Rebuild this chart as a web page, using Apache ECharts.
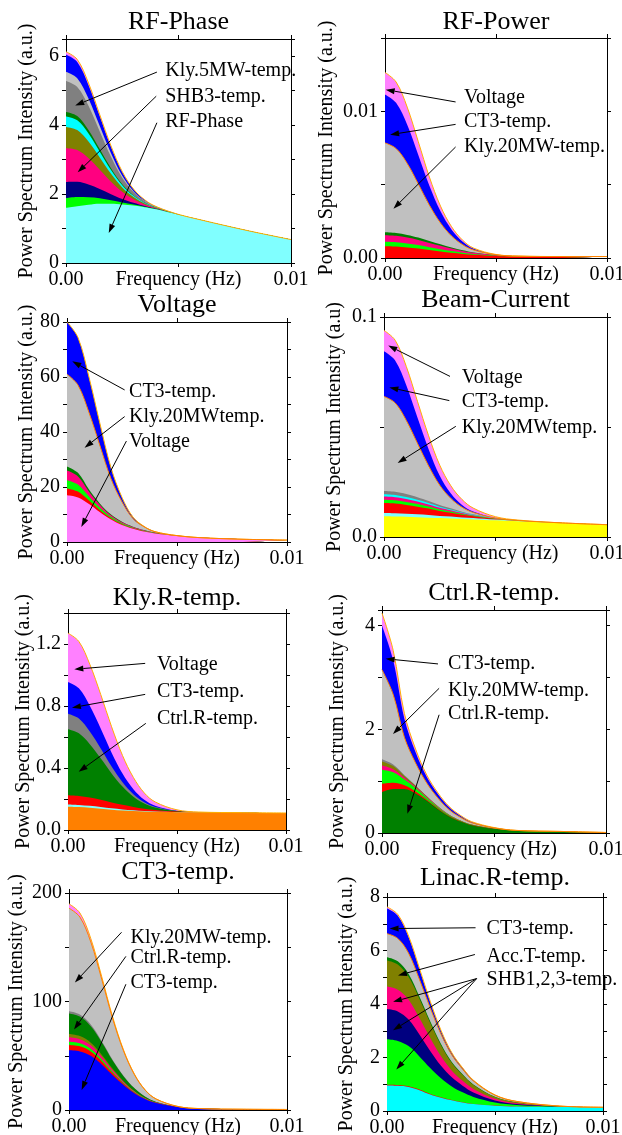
<!DOCTYPE html>
<html>
<head>
<meta charset="utf-8">
<script src="https://cdn.jsdelivr.net/npm/echarts@6/dist/echarts.min.js"></script>
<style>
  html, body { margin: 0; padding: 0; background: #fff; }
  #chart { width: 622px; height: 1135px; }
</style>
</head>
<body>
<div id="chart"></div>
<script>
// frequency points shared by every panel (Hz)
const freq = [0, 0.0005, 0.001, 0.0015, 0.002, 0.0025, 0.003, 0.0035, 0.004, 0.005, 0.006, 0.008, 0.01]

// RF-Phase panel, layer thickness, bottom -> top
const phase_RFPhase = [1.60, 1.65, 1.69, 1.72, 1.72, 1.70, 1.67, 1.62, 1.56, 1.40, 1.25, 0.95, 0.68]
const phase_SHB1 = [0.28, 0.263, 0.218, 0.16, 0.104, 0.059, 0.029, 0.013, 0.005, 0.001, 0, 0, 0]
const phase_SHB2 = [0.47, 0.442, 0.367, 0.268, 0.174, 0.099, 0.049, 0.022, 0.008, 0.001, 0, 0, 0]
const phase_SHB3 = [0.98, 0.921, 0.764, 0.559, 0.363, 0.206, 0.103, 0.046, 0.018, 0.002, 0, 0, 0]
const phase_AccT = [0.62, 0.583, 0.484, 0.353, 0.229, 0.130, 0.065, 0.029, 0.011, 0.001, 0, 0, 0]
const phase_LinacR = [0.30, 0.282, 0.234, 0.171, 0.111, 0.063, 0.032, 0.014, 0.005, 0.001, 0, 0, 0]
const phase_CtrlR = [0.13, 0.122, 0.101, 0.074, 0.048, 0.027, 0.014, 0.006, 0.002, 0, 0, 0, 0]
const phase_Kly5 = [0.90, 0.846, 0.702, 0.513, 0.333, 0.189, 0.095, 0.042, 0.016, 0.002, 0, 0, 0]
const phase_Kly20 = [0.27, 0.254, 0.211, 0.154, 0.1, 0.057, 0.028, 0.013, 0.005, 0.001, 0, 0, 0]
const phase_CT3 = [0.50, 0.47, 0.39, 0.285, 0.185, 0.105, 0.053, 0.024, 0.009, 0.001, 0, 0, 0]
const phase_Voltage = [0.08, 0.075, 0.062, 0.046, 0.03, 0.017, 0.008, 0.004, 0.001, 0, 0, 0, 0]

// RF-Power panel
const power_RFPower = [0.0008, 0.00078, 0.00072, 0.00065, 0.00055, 0.00045, 0.00036, 0.00028, 0.00022, 0.00014, 0.00011, 0.0001, 0.0001]
const power_SHB1 = [0.0003, 0.00029, 0.00027, 0.00023, 0.00019, 0.00015, 0.00011, 0.00008, 0.00005, 0.00002, 0.00001, 0, 0]
const power_SHB3 = [0.00045, 0.00044, 0.0004, 0.00035, 0.00029, 0.00023, 0.00017, 0.00012, 0.00008, 0.00003, 0.00001, 0, 0]
const power_CtrlR = [0.0002, 0.00019, 0.00018, 0.00016, 0.00013, 0.0001, 0.00007, 0.00005, 0.00003, 0.00001, 0, 0, 0]
const power_Kly20 = [0.0061, 0.00576, 0.00488, 0.00366, 0.00244, 0.00146, 0.00079, 0.00038, 0.00016, 0.00002, 0, 0, 0]
const power_CT3 = [0.0033, 0.00312, 0.00264, 0.00198, 0.00132, 0.00079, 0.00043, 0.0002, 0.00009, 0.00001, 0, 0, 0]
const power_Voltage = [0.0015, 0.00142, 0.0012, 0.0009, 0.0006, 0.00036, 0.0002, 0.0001, 0.00004, 0.00001, 0, 0, 0]

// Voltage panel
const volt_Voltage = [17, 16.2, 13.8, 10.8, 8.2, 6.2, 4.8, 3.8, 3.1, 2.2, 1.6, 1.0, 0.7]
const volt_RFPower = [2.5, 2.13, 1.25, 0.75, 0.43, 0.28, 0.19, 0.13, 0.08, 0.03, 0, 0, 0]
const volt_SHB1 = [3, 2.55, 1.5, 0.9, 0.51, 0.33, 0.23, 0.15, 0.09, 0.03, 0, 0, 0]
const volt_SHB3 = [3.5, 2.98, 1.75, 1.05, 0.6, 0.39, 0.26, 0.18, 0.11, 0.04, 0, 0, 0]
const volt_CtrlR = [1.5, 1.28, 0.75, 0.45, 0.26, 0.17, 0.11, 0.08, 0.05, 0.02, 0, 0, 0]
const volt_Kly20 = [33.5, 31.9, 28, 21, 13, 7.2, 2.9, 1.2, 0.3, 0, 0, 0, 0]
const volt_CT3 = [19, 17.3, 12.9, 8, 4, 1.65, 0.57, 0.15, 0.04, 0, 0, 0, 0]

// Beam-Current panel
const beam_Beam = [0.0094, 0.0093, 0.0092, 0.009, 0.0088, 0.0086, 0.0084, 0.0082, 0.008, 0.0076, 0.0072, 0.0064, 0.0056]
const beam_RFPhase = [0.0015, 0.0015, 0.0014, 0.0013, 0.0012, 0.001, 0.0009, 0.0007, 0.0006, 0.0003, 0.0001, 0, 0]
const beam_RFPower = [0.0045, 0.0044, 0.004, 0.0035, 0.0029, 0.0022, 0.0017, 0.0012, 0.0008, 0.0003, 0.0001, 0, 0]
const beam_SHB1 = [0.0015, 0.00146, 0.00134, 0.00117, 0.00096, 0.00075, 0.00056, 0.00039, 0.00026, 0.00009, 0.00003, 0, 0]
const beam_SHB3 = [0.0015, 0.00146, 0.00134, 0.00117, 0.00096, 0.00075, 0.00056, 0.00039, 0.00026, 0.00009, 0.00003, 0, 0]
const beam_LinacR = [0.001, 0.00097, 0.00089, 0.00078, 0.00064, 0.0005, 0.00037, 0.00026, 0.00017, 0.00006, 0.00002, 0, 0]
const beam_Kly5 = [0.0015, 0.00146, 0.00134, 0.00117, 0.00096, 0.00075, 0.00056, 0.00039, 0.00026, 0.00009, 0.00003, 0, 0]
const beam_Kly20 = [0.043, 0.0404, 0.0335, 0.0245, 0.0159, 0.009, 0.0045, 0.002, 0.0008, 0.0001, 0, 0, 0]
const beam_CT3 = [0.0205, 0.0193, 0.016, 0.0117, 0.0076, 0.0043, 0.0022, 0.001, 0.0004, 0, 0, 0, 0]
const beam_Voltage = [0.0095, 0.0092, 0.0085, 0.0074, 0.0061, 0.0048, 0.0035, 0.0025, 0.0016, 0.0006, 0.0002, 0, 0]

// Kly.R-temp. panel
const klyr_KlyR = [0.15, 0.148, 0.143, 0.137, 0.131, 0.126, 0.122, 0.119, 0.117, 0.115, 0.114, 0.112, 0.11]
const klyr_RFPhase = [0.015, 0.014, 0.013, 0.011, 0.009, 0.007, 0.005, 0.003, 0.002, 0, 0, 0, 0]
const klyr_RFPower = [0.06, 0.058, 0.054, 0.047, 0.038, 0.03, 0.022, 0.015, 0.01, 0.004, 0.001, 0, 0]
const klyr_CtrlR = [0.425, 0.404, 0.344, 0.268, 0.187, 0.117, 0.066, 0.034, 0.016, 0.003, 0, 0, 0]
const klyr_Kly5 = [0.1, 0.095, 0.081, 0.063, 0.044, 0.028, 0.016, 0.008, 0.004, 0.001, 0, 0, 0]
const klyr_CT3 = [0.205, 0.195, 0.166, 0.129, 0.09, 0.056, 0.032, 0.016, 0.008, 0.001, 0, 0, 0]
const klyr_Voltage = [0.315, 0.302, 0.268, 0.22, 0.167, 0.117, 0.076, 0.044, 0.024, 0.006, 0.001, 0, 0]

// Ctrl.R-temp. panel
const ctrl_CtrlR = [0.79, 0.85, 0.85, 0.76, 0.62, 0.46, 0.32, 0.22, 0.15, 0.08, 0.05, 0.03, 0.01]
const ctrl_RFPower = [0.16, 0.12, 0.07, 0.04, 0.023, 0.014, 0.009, 0.006, 0.003, 0.001, 0, 0, 0]
const ctrl_SHB1 = [0.27, 0.2, 0.11, 0.068, 0.039, 0.024, 0.015, 0.009, 0.005, 0.002, 0, 0, 0]
const ctrl_SHB3 = [0.08, 0.06, 0.034, 0.02, 0.012, 0.007, 0.004, 0.003, 0.002, 0, 0, 0, 0]
const ctrl_AccT = [0.08, 0.06, 0.034, 0.02, 0.012, 0.007, 0.004, 0.003, 0.002, 0, 0, 0, 0]
const ctrl_Kly5 = [0.04, 0.03, 0.017, 0.01, 0.006, 0.004, 0.002, 0.001, 0, 0, 0, 0, 0]
const ctrl_Kly20 = [1.73, 1.35, 0.73, 0.43, 0.25, 0.156, 0.095, 0.06, 0.035, 0.014, 0, 0, 0]
const ctrl_CT3 = [0.85, 0.66, 0.36, 0.21, 0.12, 0.077, 0.047, 0.03, 0.017, 0.007, 0, 0, 0]
const ctrl_Voltage = [0.24, 0.19, 0.1, 0.06, 0.035, 0.022, 0.013, 0.008, 0.005, 0.002, 0, 0, 0]

// CT3-temp. panel
const ct3_CT3 = [55, 54, 50, 42, 32, 23, 15.5, 10, 6.5, 2.8, 1.3, 0.7, 0.5]
const ct3_RFPower = [5, 4.7, 4, 3, 2, 1.2, 0.65, 0.3, 0.14, 0.02, 0, 0, 0]
const ct3_SHB1 = [3, 2.8, 2.4, 1.8, 1.2, 0.72, 0.39, 0.19, 0.08, 0.01, 0, 0, 0]
const ct3_SHB3 = [4, 3.8, 3.2, 2.4, 1.6, 0.96, 0.52, 0.25, 0.11, 0.01, 0, 0, 0]
const ct3_AccT = [3, 2.8, 2.4, 1.8, 1.2, 0.72, 0.39, 0.19, 0.08, 0.01, 0, 0, 0]
const ct3_CtrlR = [19, 18, 15.2, 11.4, 7.6, 4.6, 2.5, 1.2, 0.5, 0.07, 0, 0, 0]
const ct3_Kly5 = [2, 1.9, 1.6, 1.2, 0.8, 0.48, 0.26, 0.12, 0.05, 0.01, 0, 0, 0]
const ct3_Kly20 = [95, 89.8, 76, 57, 38, 22.8, 12.4, 5.9, 2.6, 0.3, 0, 0, 0]
const ct3_Voltage = [4, 3.8, 3.2, 2.4, 1.6, 0.96, 0.52, 0.25, 0.11, 0.01, 0, 0, 0]

// Linac.R-temp. panel
const linac_LinacR = [0.95, 0.94, 0.9, 0.78, 0.62, 0.5, 0.4, 0.32, 0.26, 0.2, 0.17, 0.15, 0.14]
const linac_RFPower = [0.03, 0.03, 0.026, 0.022, 0.017, 0.013, 0.009, 0.007, 0.005, 0.002, 0.001, 0, 0]
const linac_SHB1 = [1.7, 1.65, 1.5, 1.24, 0.97, 0.71, 0.51, 0.37, 0.26, 0.117, 0.056, 0.01, 0]
const linac_SHB2 = [1.13, 1.1, 0.99, 0.82, 0.64, 0.47, 0.34, 0.25, 0.17, 0.078, 0.037, 0.007, 0]
const linac_SHB3 = [0.84, 0.81, 0.74, 0.61, 0.48, 0.35, 0.25, 0.18, 0.13, 0.058, 0.028, 0.005, 0]
const linac_AccT = [0.98, 0.95, 0.86, 0.72, 0.56, 0.41, 0.29, 0.22, 0.15, 0.068, 0.032, 0.006, 0]
const linac_CtrlR = [0.12, 0.12, 0.11, 0.09, 0.07, 0.05, 0.036, 0.026, 0.018, 0.008, 0.004, 0.001, 0]
const linac_Kly20 = [0.88, 0.85, 0.77, 0.64, 0.5, 0.37, 0.26, 0.19, 0.13, 0.061, 0.029, 0.005, 0]
const linac_CT3 = [0.95, 0.85, 0.6, 0.38, 0.22, 0.12, 0.07, 0.04, 0.02, 0.005, 0, 0, 0]
const linac_Voltage = [0.05, 0.048, 0.044, 0.037, 0.028, 0.021, 0.015, 0.011, 0.008, 0.003, 0.002, 0, 0]

// one colour per contributing signal
const colors = {
  'RF-Phase': '#80ffff', 'RF-Power': '#ff0000', 'Voltage': '#ff80ff', 'Beam-Current': '#ffff00',
  'Kly.R-temp.': '#ff8000', 'Ctrl.R-temp.': '#008000', 'CT3-temp.': '#0000ff', 'Linac.R-temp.': '#00ffff',
  'Kly.20MW-temp.': '#c0c0c0', 'Kly.5MW-temp.': '#808080', 'Acc.T-temp.': '#808000',
  'SHB1-temp.': '#00ff00', 'SHB2-temp.': '#000080', 'SHB3-temp.': '#ff0080'
}

const FONT = '"Liberation Serif", "Times New Roman", serif'
const NAME = 'Power Spectrum Intensity (a.u.)'

const panels = [
  {
    title: 'RF-Phase', box: [66, 39, 225, 224], titleY: 22, yMax: 6.5, yStep: 1, yLabelStep: 2, dec: 0, nameGap: 29, yName: NAME,
    layers: [['RF-Phase', phase_RFPhase], ['SHB1-temp.', phase_SHB1], ['SHB2-temp.', phase_SHB2], ['SHB3-temp.', phase_SHB3],
      ['Acc.T-temp.', phase_AccT], ['Linac.R-temp.', phase_LinacR], ['Ctrl.R-temp.', phase_CtrlR], ['Kly.5MW-temp.', phase_Kly5],
      ['Kly.20MW-temp.', phase_Kly20], ['CT3-temp.', phase_CT3], ['Voltage', phase_Voltage]],
    notes: [
      ['Kly.5MW-temp.', [0.00441, 5.57], [[0.00404, 5.54, 0.00041, 4.57]]],
      ['SHB3-temp.', [0.00441, 4.82], [[0.00401, 4.84, 0.00052, 2.63]]],
      ['RF-Phase', [0.00441, 4.11], [[0.00404, 4.07, 0.0019, 0.87]]]
    ]
  },
  {
    title: 'RF-Power', box: [385, 38, 222, 220], titleY: 22, yMax: 0.015, yStep: 0.005, yLabelStep: 0.01, dec: 2, nameGap: 48, yName: NAME,
    layers: [['RF-Power', power_RFPower], ['SHB1-temp.', power_SHB1], ['SHB3-temp.', power_SHB3], ['Ctrl.R-temp.', power_CtrlR],
      ['Kly.20MW-temp.', power_Kly20], ['CT3-temp.', power_CT3], ['Voltage', power_Voltage]],
    notes: [
      ['Voltage', [0.00356, 0.01093], [[0.00318, 0.01064, 0.00003, 0.01148]]],
      ['CT3-temp.', [0.00356, 0.00927], [[0.00318, 0.00911, 0.00023, 0.00841]]],
      ['Kly.20MW-temp.', [0.00356, 0.00757], [[0.00318, 0.00757, 0.00038, 0.00336]]]
    ]
  },
  {
    title: 'Voltage', box: [67, 322, 220, 220], titleY: 305, yMax: 80, yStep: 10, yLabelStep: 20, dec: 0, nameGap: 30, yName: NAME,
    layers: [['Voltage', volt_Voltage], ['RF-Power', volt_RFPower], ['SHB1-temp.', volt_SHB1], ['SHB3-temp.', volt_SHB3],
      ['Ctrl.R-temp.', volt_CtrlR], ['Kly.20MW-temp.', volt_Kly20], ['CT3-temp.', volt_CT3]],
    notes: [
      ['CT3-temp.', [0.00282, 54.7], [[0.00262, 55.3, 0.00024, 65.7]]],
      ['Kly.20MWtemp.', [0.00282, 45.6], [[0.00262, 45.6, 0.0008, 34.3]]],
      ['Voltage', [0.00282, 36.5], [[0.0027, 36.7, 0.00065, 5.5]]]
    ]
  },
  {
    title: 'Beam-Current', box: [384, 317, 223, 220], titleY: 300, yMax: 0.1, yStep: 0.05, yLabelStep: 0.1, dec: 1, nameGap: 39,
    yName: 'Power Spectrum Intensity (a.u)',
    layers: [['Beam-Current', beam_Beam], ['RF-Phase', beam_RFPhase], ['RF-Power', beam_RFPower], ['SHB1-temp.', beam_SHB1],
      ['SHB3-temp.', beam_SHB3], ['Linac.R-temp.', beam_LinacR], ['Kly.5MW-temp.', beam_Kly5], ['Kly.20MW-temp.', beam_Kly20],
      ['CT3-temp.', beam_CT3], ['Voltage', beam_Voltage]],
    notes: [
      ['Voltage', [0.00349, 0.0726], [[0.00296, 0.073, 0.00019, 0.087]]],
      ['CT3-temp.', [0.00349, 0.0617], [[0.00293, 0.062, 0.00024, 0.068]]],
      ['Kly.20MWtemp.', [0.00349, 0.0495], [[0.00322, 0.0503, 0.00061, 0.0336]]]
    ]
  },
  {
    title: 'Kly.R-temp.', box: [68, 613, 218, 217], titleY: 598, yMax: 1.4, yStep: 0.2, yLabelStep: 0.4, dec: 1, nameGap: 34, yName: NAME,
    layers: [['Kly.R-temp.', klyr_KlyR], ['RF-Phase', klyr_RFPhase], ['RF-Power', klyr_RFPower], ['Ctrl.R-temp.', klyr_CtrlR],
      ['Kly.5MW-temp.', klyr_Kly5], ['CT3-temp.', klyr_CT3], ['Voltage', klyr_Voltage]],
    notes: [
      ['Voltage', [0.00408, 1.069], [[0.00354, 1.075, 0.00029, 1.037]]],
      ['CT3-temp.', [0.00408, 0.892], [[0.00354, 0.875, 0.00018, 0.789]]],
      ['Ctrl.R-temp.', [0.00408, 0.72], [[0.00357, 0.688, 0.00049, 0.376]]]
    ]
  },
  {
    title: 'Ctrl.R-temp.', box: [382, 610, 224, 223], titleY: 593, yMax: 4.3, yStep: 1, yLabelStep: 2, dec: 0, nameGap: 34, yName: NAME,
    layers: [['Ctrl.R-temp.', ctrl_CtrlR], ['RF-Power', ctrl_RFPower], ['SHB1-temp.', ctrl_SHB1], ['SHB3-temp.', ctrl_SHB3],
      ['Acc.T-temp.', ctrl_AccT], ['Kly.5MW-temp.', ctrl_Kly5], ['Kly.20MW-temp.', ctrl_Kly20], ['CT3-temp.', ctrl_CT3],
      ['Voltage', ctrl_Voltage]],
    notes: [
      ['CT3-temp.', [0.00295, 3.27], [[0.0025, 3.26, 0.00016, 3.36]]],
      ['Kly.20MW-temp.', [0.00295, 2.75], [[0.00255, 2.79, 0.00049, 1.91]]],
      ['Ctrl.R-temp.', [0.00295, 2.3], [[0.00255, 2.28, 0.00113, 0.37]]]
    ]
  },
  {
    title: 'CT3-temp.', box: [69, 893, 218, 217], titleY: 872, yMax: 200, yStep: 50, yLabelStep: 100, dec: 0, nameGap: 42, yName: NAME,
    layers: [['CT3-temp.', ct3_CT3], ['RF-Power', ct3_RFPower], ['SHB1-temp.', ct3_SHB1], ['SHB3-temp.', ct3_SHB3],
      ['Acc.T-temp.', ct3_AccT], ['Ctrl.R-temp.', ct3_CtrlR], ['Kly.5MW-temp.', ct3_Kly5], ['Kly.20MW-temp.', ct3_Kly20],
      ['Voltage', ct3_Voltage]],
    notes: [
      ['Kly.20MW-temp.', [0.00282, 159], [[0.00241, 163.8, 0.00027, 117.5]]],
      ['Ctrl.R-temp.', [0.00282, 140.6], [[0.00261, 141.6, 0.00023, 74.2]]],
      ['CT3-temp.', [0.00282, 117.5], [[0.00261, 115.9, 0.00058, 18.5]]]
    ]
  },
  {
    title: 'Linac.R-temp.', box: [387, 897, 216, 214], titleY: 878, yMax: 8, yStep: 1, yLabelStep: 2, dec: 0, nameGap: 30, yName: NAME,
    layers: [['Linac.R-temp.', linac_LinacR], ['RF-Power', linac_RFPower], ['SHB1-temp.', linac_SHB1], ['SHB2-temp.', linac_SHB2],
      ['SHB3-temp.', linac_SHB3], ['Acc.T-temp.', linac_AccT], ['Ctrl.R-temp.', linac_CtrlR], ['Kly.20MW-temp.', linac_Kly20],
      ['CT3-temp.', linac_CT3], ['Voltage', linac_Voltage]],
    notes: [
      ['CT3-temp.', [0.00461, 6.82], [[0.0041, 6.85, 0.00012, 6.82]]],
      ['Acc.T-temp.', [0.00461, 5.78], [[0.00407, 5.85, 0.00051, 5.07]]],
      ['SHB1,2,3-temp.', [0.00461, 4.89], [[0.00415, 4.95, 0.00028, 4.08], [0.00415, 4.95, 0.00028, 3.02], [0.00415, 4.95, 0.00043, 1.55]]]
    ]
  }
]

const chart = echarts.init(document.getElementById('chart'))

const black = { color: '#000', width: 1 }
const option = {
  animation: false,
  backgroundColor: '#fff',
  textStyle: { fontFamily: FONT },
  grid: [], xAxis: [], yAxis: [], series: []
}

panels.forEach((p, i) => {
  option.grid.push({ left: p.box[0], top: p.box[1], width: p.box[2], height: p.box[3], outerBoundsMode: 'none', containLabel: false })

  const xBase = {
    type: 'value', gridIndex: i, min: 0, max: 0.01, interval: 0.005,
    axisLine: { onZero: false, lineStyle: black },
    axisTick: { length: 4, lineStyle: black },
    splitLine: { show: false }
  }
  option.xAxis.push(Object.assign({}, xBase, {
    position: 'bottom',
    name: 'Frequency (Hz)', nameLocation: 'middle', nameGap: 7, nameMoveOverlap: false,
    nameTextStyle: { fontSize: 20, color: '#000', fontFamily: FONT },
    axisLabel: {
      margin: 7, fontSize: 20, color: '#000', fontFamily: FONT,
      formatter: v => v < 0.001 ? '0.00' : (v > 0.009 ? '0.01' : '')
    }
  }))
  option.xAxis.push(Object.assign({}, xBase, { position: 'top', axisLabel: { show: false } }))

  const yBase = {
    type: 'value', gridIndex: i, min: 0, max: p.yMax, interval: p.yStep,
    axisLine: { onZero: false, lineStyle: black },
    axisTick: { length: 4, lineStyle: black },
    splitLine: { show: false }
  }
  option.yAxis.push(Object.assign({}, yBase, {
    position: 'left',
    name: p.yName, nameLocation: 'middle', nameRotate: 90, nameGap: p.nameGap, nameMoveOverlap: false,
    nameTextStyle: { fontSize: 20, color: '#000', fontFamily: FONT },
    axisLabel: {
      margin: 7, fontSize: 20, color: '#000', fontFamily: FONT,
      formatter: v => {
        const k = Math.round(v / p.yLabelStep)
        return Math.abs(v - k * p.yLabelStep) < 1e-9 ? v.toFixed(p.dec) : ''
      }
    }
  }))
  option.yAxis.push(Object.assign({}, yBase, { position: 'right', axisLabel: { show: false } }))

  // running totals of the layers: each area is filled from zero to its own total,
  // outermost drawn first so the lower layers paint over it
  const totals = []
  let run = freq.map(() => 0)
  p.layers.forEach(([name, vals]) => {
    run = run.map((r, k) => r + vals[k])
    totals.push([name, run.slice()])
  })
  for (let j = totals.length - 1; j >= 0; j--) {
    const [name, tot] = totals[j]
    const edge = name === 'Kly.20MW-temp.' && i > 0
    const outer = j === totals.length - 1
    option.series.push({
      name: name,
      type: 'line',
      xAxisIndex: 2 * i, yAxisIndex: 2 * i,
      smooth: 0.35,
      symbol: 'none',
      silent: true,
      data: freq.map((f, k) => [f, tot[k]]),
      lineStyle: edge ? { color: '#ff8000', width: 1 } : (outer ? { color: '#ffb000', width: 1 } : { width: 0 }),
      areaStyle: { color: colors[name], opacity: 1 }
    })
  }
})

chart.setOption(option)

// titles, labels and arrows placed from data coordinates
function arrow (x1, y1, x2, y2) {
  const a = Math.atan2(y2 - y1, x2 - x1)
  const L = 9, W = 3
  const bx = x2 - L * Math.cos(a), by = y2 - L * Math.sin(a)
  const px = -Math.sin(a) * W, py = Math.cos(a) * W
  return [
    { type: 'line', shape: { x1: x1, y1: y1, x2: bx, y2: by }, style: { stroke: '#000', lineWidth: 1 }, z: 100 },
    { type: 'polygon', shape: { points: [[x2, y2], [bx + px, by + py], [bx - px, by - py]] }, style: { fill: '#000' }, z: 100 }
  ]
}

const gfx = []
panels.forEach((p, i) => {
  gfx.push({
    type: 'text', x: p.box[0] + p.box[2] / 2, y: p.titleY, z: 100,
    style: { text: p.title, font: '26px ' + FONT, fill: '#000', align: 'center', verticalAlign: 'middle', textAlign: 'center', textVerticalAlign: 'middle' }
  })
  const finder = { xAxisIndex: 2 * i, yAxisIndex: 2 * i }
  p.notes.forEach(([text, at, arrows]) => {
    const pt = chart.convertToPixel(finder, at)
    gfx.push({
      type: 'text', x: pt[0], y: pt[1], z: 100,
      style: { text: text, font: '20px ' + FONT, fill: '#000', verticalAlign: 'middle', textVerticalAlign: 'middle' }
    })
    arrows.forEach(a => {
      const s = chart.convertToPixel(finder, [a[0], a[1]])
      const e = chart.convertToPixel(finder, [a[2], a[3]])
      arrow(s[0], s[1], e[0], e[1]).forEach(g => gfx.push(g))
    })
  })
})
chart.setOption({ graphic: gfx })
</script>
</body>
</html>
